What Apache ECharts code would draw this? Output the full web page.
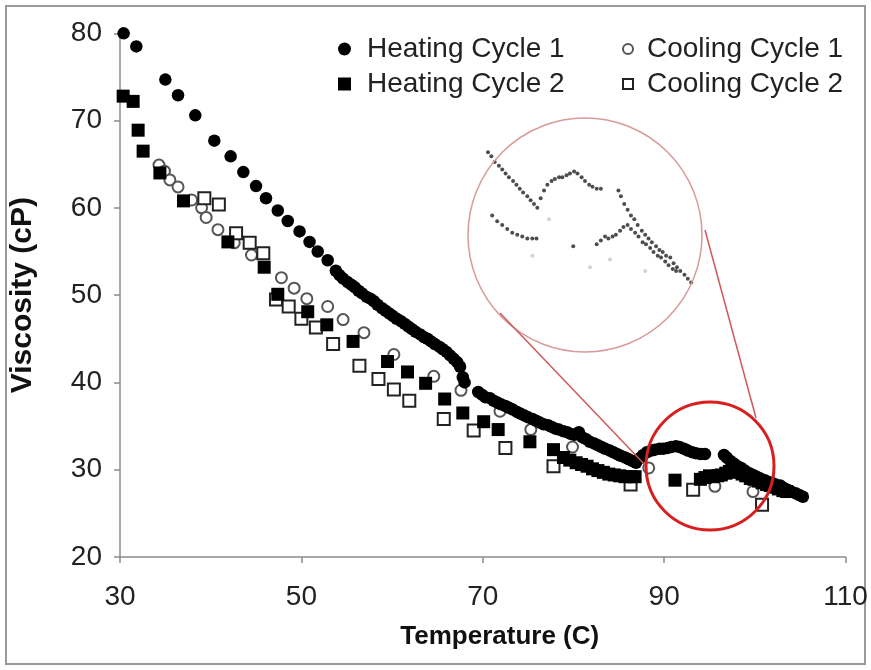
<!DOCTYPE html>
<html>
<head>
<meta charset="utf-8">
<script src="https://cdn.jsdelivr.net/npm/echarts@6/dist/echarts.min.js"></script>
<style>
  html, body { margin: 0; padding: 0; background: #fff; }
  #chart { width: 871px; height: 670px; }
</style>
</head>
<body>
<div id="chart"></div>
<script>
// viscosity vs temperature, [temperature (C), viscosity (cP)]
var heating1 = [
  [30.4,80.0],[31.8,78.5],[35.0,74.7],[36.4,72.9],[38.3,70.6],[40.4,67.7],[42.2,65.9],
  [43.6,64.1],[45.0,62.5],[46.1,61.1],[47.4,59.7],[48.5,58.5],[49.8,57.3],[50.9,56.1],
  [51.8,55.0],[52.9,54.0],[53.8,52.8],
  [54.2,52.3],[54.6,51.9],[55.1,51.5],[55.5,51.2],[55.9,50.9],[56.3,50.5],[56.7,50.2],
  [57.2,49.8],[57.6,49.6],[58.0,49.3],[58.4,48.9],[58.9,48.5],[59.3,48.2],[59.7,47.9],
  [60.1,47.6],[60.5,47.3],[61.0,47.0],[61.4,46.7],[61.8,46.4],[62.2,46.1],[62.6,45.8],
  [63.1,45.5],[63.5,45.2],[63.9,45.0],[64.3,44.7],[64.7,44.4],[65.2,44.1],[65.6,43.8],
  [66.0,43.5],[66.4,43.1],[66.8,42.7],[67.2,42.3],[67.5,41.8],[67.8,40.6],[68.0,40.0],
  [69.5,38.9],[69.9,38.6],[70.3,38.3],[70.8,38.2],[71.2,37.9],[71.6,37.7],[72.0,37.5],
  [72.5,37.3],[72.9,37.1],[73.3,36.9],[73.8,36.6],[74.2,36.4],[74.6,36.2],[75.0,36.0],
  [75.5,35.8],[75.9,35.6],[76.3,35.4],[76.7,35.2],[77.2,35.1],[77.6,34.9],[78.0,34.7],
  [78.4,34.6],[78.9,34.4],[79.3,34.3],[79.7,34.1],[80.1,34.0],[80.6,34.3],[81.0,33.7],
  [81.4,33.5],[81.8,33.2],[82.3,33.0],[82.7,32.8],[83.1,32.6],[83.5,32.4],[84.0,32.2],
  [84.4,32.0],[84.8,31.8],[85.2,31.6],[85.7,31.4],[86.1,31.2],[86.5,31.0],[86.9,30.8],
  [87.3,31.3],[87.7,31.7],
  [88.1,32.0],[88.6,32.2],[89.0,32.3],[89.5,32.4],[89.9,32.4],[90.4,32.5],[90.8,32.6],
  [91.3,32.7],[91.7,32.6],[92.2,32.4],[92.6,32.2],[93.1,32.0],[93.5,31.9],[94.0,31.8],
  [94.5,31.8],
  [96.6,31.7],[96.9,31.4],[97.3,31.0],[97.7,30.7],[98.1,30.4],[98.5,30.2],[98.9,29.9],
  [99.4,29.6],[99.8,29.4],[100.2,29.2],[100.6,29.0],[101.1,28.8],[101.5,28.6],[101.9,28.5],
  [102.3,28.3],[102.8,28.2],[103.2,27.9],[103.6,27.7],[104.0,27.5],[104.5,27.3],[104.9,27.1],
  [105.3,26.9]
];
var heating2 = [
  [30.35,72.8],[31.45,72.2],[32.0,68.9],[32.55,66.5],[34.4,64.0],[37.0,60.8],[41.9,56.1],
  [45.9,53.2],[47.4,50.1],[50.7,48.1],[52.8,46.6],[55.7,44.7],[59.5,42.4],[61.7,41.2],
  [63.7,39.9],[65.8,38.1],[67.8,36.5],[70.1,35.5],[71.7,34.6],[75.2,33.2],[77.8,32.3],
  [78.9,31.4],[79.6,31.1],[80.3,30.8],[80.9,30.6],[81.5,30.4],[82.1,30.1],[82.7,29.9],
  [83.3,29.7],[83.9,29.5],[84.5,29.4],[85.1,29.3],[85.7,29.2],[86.3,29.2],[86.8,29.2],
  [91.2,28.8],[94.0,28.9],[94.5,29.1],[95.0,29.3],[95.4,29.2],[95.9,29.3],[96.3,29.4],
  [96.8,29.6],[97.2,29.8],[97.7,29.9],[98.1,29.7],[98.6,29.5],[99.0,29.3],[99.5,29.0],
  [99.9,28.9],[100.4,28.7],[100.8,28.5],[101.3,28.3],[101.7,28.2],[102.2,28.0],[102.6,27.8],
  [103.1,27.6],[103.5,27.5]
];
var cooling1 = [
  [34.3,64.9],[34.9,64.2],[35.5,63.2],[36.4,62.4],[37.9,60.9],[39.0,60.0],[39.5,58.9],
  [40.8,57.5],[42.6,56.0],[44.5,54.6],[47.8,52.0],[49.2,50.8],[50.6,49.6],[52.9,48.7],
  [54.6,47.2],[56.9,45.7],[60.2,43.2],[64.6,40.7],[67.6,39.1],[71.9,36.7],[75.3,34.6],
  [79.9,32.6],[88.3,30.2],[95.6,28.1],[99.8,27.5]
];
var cooling2 = [
  [39.3,61.1],[40.9,60.4],[42.8,57.1],[44.3,56.0],[45.8,54.8],[47.2,49.5],[48.6,48.7],
  [50.0,47.3],[51.6,46.3],[53.5,44.4],[56.4,41.9],[58.5,40.4],[60.2,39.2],[61.9,37.9],
  [65.7,35.8],[69.0,34.5],[72.5,32.5],[77.8,30.4],[86.3,28.3],[93.2,27.7],[100.8,26.0]
];

var font = 'Liberation Sans';
var myChart = echarts.init(document.getElementById('chart'));

function mainSeries(name, data, symbol, color, size) {
  return {
    name: name, type: 'scatter', data: data, symbol: symbol, symbolSize: size,
    itemStyle: { color: color, borderWidth: 1.5, opacity: 1 },
    emphasis: { disabled: true }
  };
}
// zoomed copy of the same data drawn inside the pink circle
function insetSeries(data, color) {
  return {
    type: 'scatter', data: data, symbol: 'circle', symbolSize: 4,
    xAxisIndex: 1, yAxisIndex: 1, silent: true,
    itemStyle: { color: color }
  };
}

var option = {
  backgroundColor: '#fff',
  animation: false,
  grid: [
    { left: 118.5, right: 25.5, top: 33.3, bottom: 113 },
    { left: 488, width: 209, top: 137, height: 157 }
  ],
  legend: [
    {
      data: ['Heating Cycle 1', 'Heating Cycle 2'],
      orient: 'vertical', left: 333, top: 30, itemWidth: 13, itemHeight: 13, itemGap: 7,
      selectedMode: false,
      textStyle: { fontFamily: font, fontSize: 28, color: '#222', padding: [0, 0, 0, 11] }
    },
    {
      data: ['Cooling Cycle 1', 'Cooling Cycle 2'],
      orient: 'vertical', left: 617, top: 30, itemWidth: 10, itemHeight: 10, itemGap: 7,
      selectedMode: false,
      textStyle: { fontFamily: font, fontSize: 28, color: '#222', padding: [0, 0, 0, 9] }
    }
  ],
  xAxis: [
    {
      type: 'value', min: 30, max: 110, interval: 20,
      name: 'Temperature (C)', nameLocation: 'middle', nameGap: 67,
      nameTextStyle: { fontFamily: font, fontSize: 26, fontWeight: 'bold', color: '#111',
        padding: [0, 0, 0, 34] },
      axisLine: { lineStyle: { color: '#8c8c8c', width: 1.5 } },
      axisTick: { length: 6, lineStyle: { color: '#8c8c8c', width: 1.5 } },
      axisLabel: { fontFamily: font, fontSize: 28, color: '#222', margin: 26 },
      splitLine: { show: false }
    },
    { type: 'value', gridIndex: 1, min: 81, max: 106, show: false }
  ],
  yAxis: [
    {
      type: 'value', min: 20, max: 80, interval: 10,
      name: 'Viscosity (cP)', nameLocation: 'middle', nameGap: 82,
      nameTextStyle: { fontFamily: font, fontSize: 30, fontWeight: 'bold', color: '#111' },
      axisLine: { show: true, lineStyle: { color: '#8c8c8c', width: 1.5 } },
      axisTick: { show: true, length: 6, lineStyle: { color: '#8c8c8c', width: 1.5 } },
      axisLabel: { fontFamily: font, fontSize: 28, color: '#222', margin: 18 },
      splitLine: { show: false }
    },
    { type: 'value', gridIndex: 1, min: 26.3, max: 34.5, show: false }
  ],
  graphic: [
    { type: 'rect', shape: { x: 6, y: 6, width: 859, height: 658 },
      style: { fill: 'none', stroke: '#9a9a9a', lineWidth: 2 }, silent: true },
    { type: 'circle', shape: { cx: 585, cy: 235, r: 117 },
      style: { fill: 'none', stroke: '#d99a9a', lineWidth: 1.5 }, z: 10, silent: true },
    { type: 'line', shape: { x1: 500, y1: 313, x2: 646, y2: 466 },
      style: { stroke: '#cf5a5a', lineWidth: 1.5 }, z: 10, silent: true },
    { type: 'line', shape: { x1: 705, y1: 230, x2: 756, y2: 418 },
      style: { stroke: '#cf5a5a', lineWidth: 1.5 }, z: 10, silent: true },
    { type: 'circle', shape: { cx: 710, cy: 466, r: 64 },
      style: { fill: 'none', stroke: '#d71f1f', lineWidth: 3 }, z: 10, silent: true }
  ],
  series: [
    mainSeries('Cooling Cycle 1', cooling1, 'emptyCircle', '#555', 11),
    mainSeries('Cooling Cycle 2', cooling2, 'emptyRect', '#222', 12),
    mainSeries('Heating Cycle 2', heating2, 'rect', '#000', 13),
    mainSeries('Heating Cycle 1', heating1, 'circle', '#000', 12.5),
    insetSeries(cooling1, '#c8c8c8'),
    insetSeries(cooling2, '#c8c8c8'),
    insetSeries(heating2, '#222'),
    insetSeries(heating1, '#222')
  ]
};

myChart.setOption(option);
</script>
</body>
</html>
